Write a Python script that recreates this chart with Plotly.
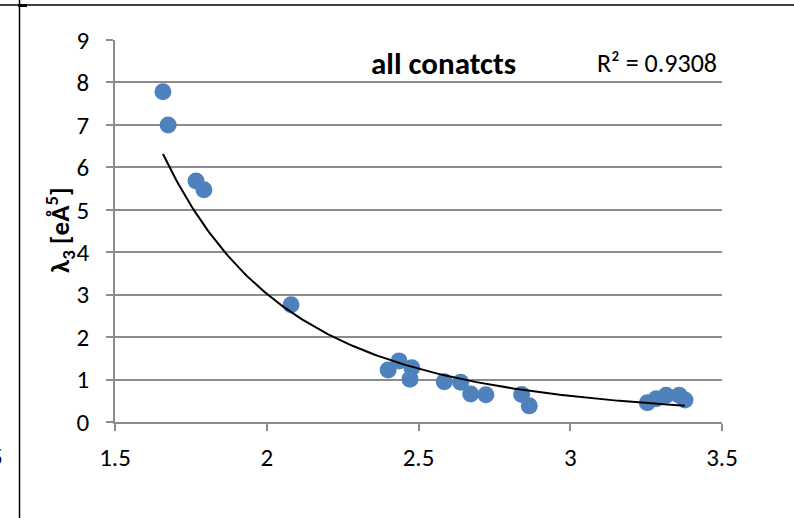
import numpy as np
import plotly.graph_objects as go

# Data
distance = [1.658, 1.675, 1.767, 1.793, 2.080, 2.400, 2.436, 2.478, 2.472, 2.585,
            2.639, 2.672, 2.722, 2.840, 2.865, 3.254, 3.283, 3.316, 3.359, 3.378]
lambda3 = [7.78, 7.00, 5.68, 5.47, 2.76, 1.225, 1.44, 1.28, 1.01, 0.95,
           0.935, 0.66, 0.64, 0.65, 0.38, 0.455, 0.55, 0.63, 0.63, 0.52]
x_ticks = [1.5, 2, 2.5, 3, 3.5]
x_tick_labels = ["1.5", "2", "2.5", "3", "3.5"]
y_ticks = [0, 1, 2, 3, 4, 5, 6, 7, 8, 9]
title_text = "all conatcts"
r2_text = "R² = 0.9308"

# Power trendline (least squares in log-log space, as a spreadsheet does)
xa = np.array(distance)
ya = np.array(lambda3)
b, lna = np.polyfit(np.log(xa), np.log(ya), 1)
xs = np.linspace(xa.min(), xa.max(), 200)
ys = np.exp(lna) * xs ** b

FONT = "Carlito, Lato, sans-serif"
W, H = 794, 518
L, R, T, B = 115, 722, 40, 422
pw, ph = R - L, B - T


def px(xp):
    return (xp - L) / pw


def py(yp):
    return (B - yp) / ph


fig = go.Figure()
fig.add_trace(go.Scatter(x=distance, y=lambda3, mode="markers",
                         marker=dict(size=17, color="#4F81BD", line=dict(width=0)),
                         showlegend=False, hoverinfo="skip"))
fig.add_trace(go.Scatter(x=xs, y=ys, mode="lines",
                         line=dict(color="black", width=2),
                         showlegend=False, hoverinfo="skip"))

fig.update_layout(
    width=W, height=H,
    margin=dict(l=L, r=W - R, t=T, b=H - B, pad=0),
    paper_bgcolor="white", plot_bgcolor="white",
    font=dict(family=FONT, color="black"),
    xaxis=dict(range=[1.5, 3.5], tickvals=x_ticks, ticktext=x_tick_labels,
               showgrid=False, zeroline=False, showline=True, linecolor="#8c8c8c",
               linewidth=1.5, ticks="outside", ticklen=7, tickcolor="#8c8c8c",
               tickwidth=1.5, tickfont=dict(size=25, family=FONT, color="black"),
               ticklabelstandoff=5),
    yaxis=dict(range=[0, 9], tickvals=y_ticks, showgrid=True, gridcolor="#8c8c8c",
               gridwidth=1.5, zeroline=False, showline=True, linecolor="#8c8c8c",
               linewidth=1.5, ticks="outside", ticklen=7, tickcolor="#8c8c8c",
               tickwidth=1.5, tickfont=dict(size=25, family=FONT, color="black"),
               ticklabelstandoff=12),
)

annotations = [
    dict(text="<b>λ<sub>3</sub> [eÅ<sup>5</sup>]</b>", textangle=-90,
         x=px(60), y=py(230), xref="paper", yref="paper", showarrow=False,
         xanchor="center", yanchor="middle", font=dict(size=27, family=FONT)),
    dict(text="<b>" + title_text + "</b>", x=px(443), y=py(63), xref="paper",
         yref="paper", showarrow=False, xanchor="center", yanchor="middle",
         font=dict(size=31, family=FONT)),
    dict(text=r2_text, x=px(719), y=py(63), xref="paper", yref="paper",
         showarrow=False, xanchor="right", yanchor="middle",
         font=dict(size=26, family=FONT)),
    dict(text="5", x=px(5), y=py(457), xref="paper", yref="paper",
         showarrow=False, xanchor="right", yanchor="middle",
         font=dict(size=25, family=FONT)),
]
fig.update_layout(annotations=annotations)

shapes = [
    dict(type="line", xref="paper", yref="paper", x0=px(19.5), x1=px(19.5),
         y0=py(0), y1=py(H), line=dict(color="black", width=1.5)),
    dict(type="line", xref="paper", yref="paper", x0=px(0), x1=px(W),
         y0=py(5), y1=py(5), line=dict(color="black", width=1.5)),
    dict(type="line", xref="paper", yref="paper", x0=px(18), x1=px(27),
         y0=py(5.5), y1=py(5.5), line=dict(color="black", width=3)),
]
fig.update_layout(shapes=shapes)

fig.write_html("out.html",
               config={"displayModeBar": False},
               post_script="document.body.style.margin='0';"
                           "document.body.style.overflow='hidden';")
